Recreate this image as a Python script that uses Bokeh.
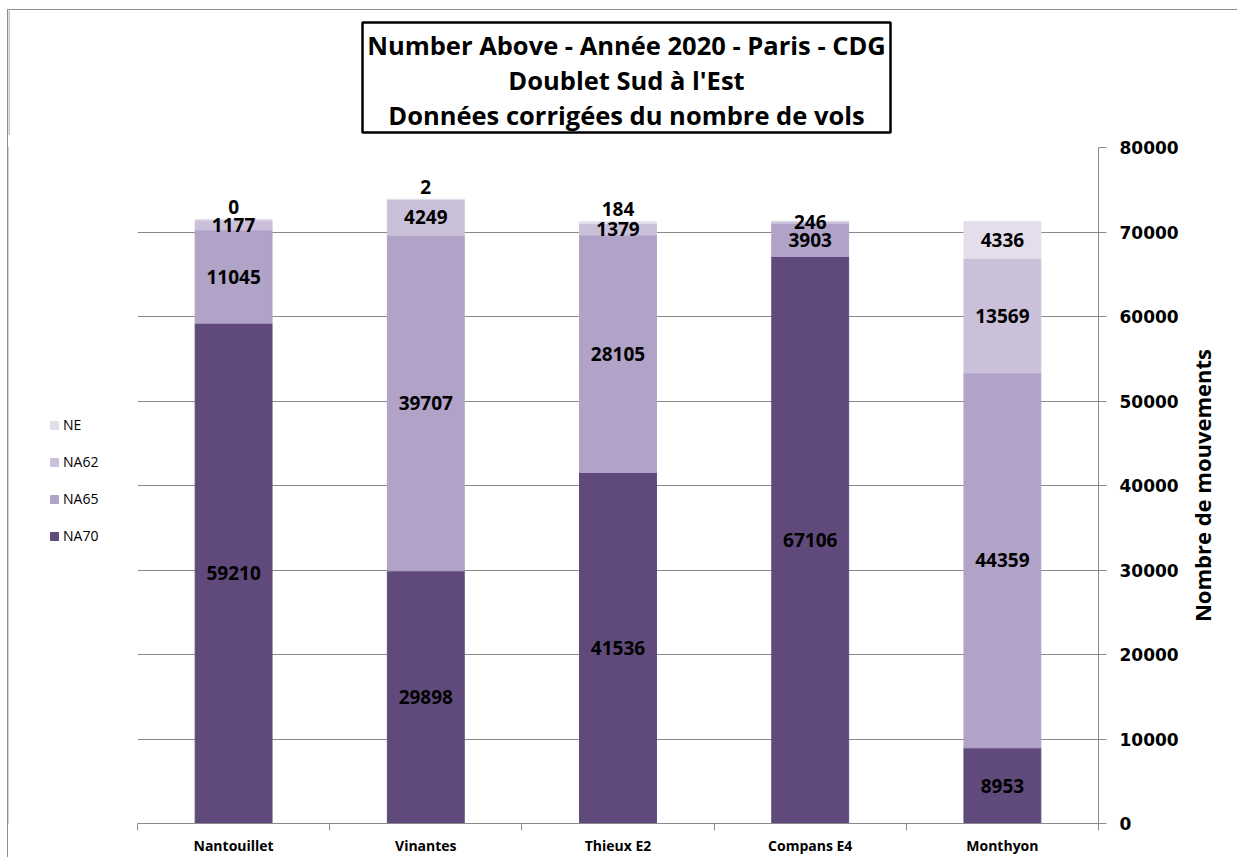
import math
from bokeh.plotting import figure
from bokeh.layouts import column, row
from bokeh.models import ColumnDataSource, FixedTicker, Range1d, Legend, LegendItem
from bokeh.core.properties import value
from bokeh.embed import file_html
from bokeh.resources import INLINE

# ---------------- data ----------------
categories = ["Nantouillet", "Vinantes", "Thieux E2", "Compans E4", "Monthyon"]
NA70 = [59210, 29898, 41536, 67106, 8953]
NA65 = [11045, 39707, 28105, 3903, 44359]
NA62 = [1177, 4249, 1379, 246, 13569]
NE = [0, 2, 184, 0, 4336]
ne_label_shown = [True, True, True, False, True]
series_names = ["NA70", "NA65", "NA62", "NE"]
series_colors = ["#604A7B", "#B1A2C8", "#CBC0DA", "#E4DEEC"]
y_ticks = [0, 10000, 20000, 30000, 40000, 50000, 60000, 70000, 80000]
title_lines = ["Number Above - Année 2020 - Paris - CDG",
               "Doublet Sud à l'Est",
               "Données corrigées du nombre de vols"]
y_axis_title = "Nombre de mouvements"

# ---------------- layout (page coordinates of the reference) ----------------
OX, OY = 8, 10                      # page position of the layout's top-left
W, H = 1237 - OX, 857 - OY
TITLE_H = 135 - OY                  # title strip height
LEG_W = 137 - OX                    # legend strip width
RSTRIP_X = 1185                     # page x where the axis-title strip starts
MAIN_W = RSTRIP_X - 137
RSTRIP_W = 1237 - RSTRIP_X
MAIN_H = H - TITLE_H
FRAME_TOP = 147 - 135
FRAME_BOTTOM = 823 - 135
FRAME_RIGHT = 1098 - 137

n = len(categories)
xs = list(range(1, n + 1))
series = [NA70, NA65, NA62, NE]
gray = "#8a8a8a"
border_gray = "#8c8c8c"

# ---------------- main chart ----------------
src = ColumnDataSource(dict(x=xs, NA70=NA70, NA65=NA65, NA62=NA62, NE=NE))
p = figure(width=MAIN_W, height=MAIN_H, output_backend="svg", toolbar_location=None,
           x_range=Range1d(0.5, n + 0.5), y_range=Range1d(0, 80000),
           y_axis_location="right", min_border_left=0,
           min_border_right=MAIN_W - FRAME_RIGHT,
           min_border_bottom=MAIN_H - FRAME_BOTTOM, min_border_top=FRAME_TOP)
p.outline_line_color = None
p.background_fill_color = "white"

rs = p.vbar_stack(series_names, x="x", width=0.4, source=src,
                  color=series_colors, line_color=series_colors)

yt = FixedTicker(ticks=y_ticks)
yax = p.yaxis[0]
yax.ticker = yt
yax.axis_line_color = gray
yax.major_tick_line_color = gray
yax.major_tick_out = 8
yax.major_tick_in = 0
yax.minor_tick_line_color = None
yax.major_label_standoff = 13
yax.major_label_text_font = "DejaVu Sans"
yax.major_label_text_font_style = "bold"
yax.major_label_text_font_size = "17px"
yax.major_label_text_color = "black"

p.ygrid.ticker = yt
p.ygrid.grid_line_color = gray
p.ygrid.grid_line_width = 1
p.xgrid.visible = False

xt = FixedTicker(ticks=xs, minor_ticks=[x - 0.5 for x in xs] + [n + 0.5])
xax = p.xaxis[0]
xax.ticker = xt
xax.major_label_overrides = {x: c for x, c in zip(xs, categories)}
xax.axis_line_color = gray
xax.major_tick_line_color = None
xax.major_tick_out = 0
xax.major_tick_in = 0
xax.minor_tick_line_color = gray
xax.minor_tick_out = 7
xax.minor_tick_in = 0
xax.major_label_standoff = 5
xax.major_label_text_font = "Open Sans"
xax.major_label_text_font_style = "bold"
xax.major_label_text_font_size = "14px"
xax.major_label_text_color = "black"

# data labels
lx, ly, lt, loff = [], [], [], []
for i in range(n):
    base = 0
    for s_idx, s in enumerate(series):
        v = s[i]
        if series_names[s_idx] == "NE":
            if ne_label_shown[i]:
                if v < 1000:
                    lx.append(xs[i]); ly.append(base + v); lt.append(str(v)); loff.append(-12.5)
                else:
                    lx.append(xs[i]); ly.append(base + v / 2); lt.append(str(v)); loff.append(0)
        else:
            lx.append(xs[i]); ly.append(base + v / 2); lt.append(str(v)); loff.append(0)
        base += v
lab_src = ColumnDataSource(dict(x=lx, y=ly, t=lt, off=loff))
p.text(x="x", y="y", text="t", y_offset="off", source=lab_src,
       text_align="center", text_baseline="middle",
       text_font=value("Open Sans"), text_font_style="bold",
       text_font_size="19px", text_color="black")

# ---------------- title strip ----------------
tf = figure(width=W, height=TITLE_H, output_backend="svg", toolbar_location=None,
            x_range=Range1d(0, W), y_range=Range1d(0, TITLE_H),
            x_axis_type=None, y_axis_type=None, min_border=0)
tf.outline_line_color = None
tf.grid.visible = False

def ty(ypage):
    return TITLE_H - (ypage - OY)

# left edge of the chart-area border within the title strip
tf.segment(x0=[0.5], y0=[0], x1=[0.5], y1=[TITLE_H], line_color=border_gray, line_width=1)

tcx = 626 - OX
tf.rect(x=[tcx], y=[ty(77)], width=528, height=110,
        fill_color="white", line_color="black", line_width=2.5)
tf.text(x=[tcx] * 3, y=[ty(44), ty(79), ty(114)], text=title_lines,
        text_align="center", text_baseline="middle",
        text_font=value("Open Sans"), text_font_style="bold",
        text_font_size="25.5px", text_color="black")

# ---------------- legend strip ----------------
lf = figure(width=LEG_W, height=MAIN_H, output_backend="svg", toolbar_location=None,
            x_range=Range1d(0, 1), y_range=Range1d(0, 1),
            x_axis_type=None, y_axis_type=None, min_border=0)
lf.outline_line_color = None
lf.grid.visible = False
proxy = ColumnDataSource(dict(x=[-10], top=[1]))   # off-canvas proxy for legend swatches
leg_rs = [lf.vbar(x="x", top="top", width=0.1, source=proxy,
                  fill_color=c, line_color=c) for c in series_colors]
items = [LegendItem(label=series_names[k], renderers=[leg_rs[k]]) for k in [3, 2, 1, 0]]
legend = Legend(items=items, location=(49 - OX, MAIN_H - (579 - 135)), padding=0, margin=0,
                spacing=18, glyph_width=10, glyph_height=10, label_standoff=4,
                label_height=19, label_text_font="Open Sans",
                label_text_font_size="14px", label_text_color="black",
                background_fill_alpha=0, border_line_color=None)
lf.add_layout(legend)

# ---------------- axis title strip (right) ----------------
rf = figure(width=RSTRIP_W, height=MAIN_H, output_backend="svg", toolbar_location=None,
            x_range=Range1d(0, RSTRIP_W), y_range=Range1d(0, MAIN_H),
            x_axis_type=None, y_axis_type=None, min_border=0)
rf.outline_line_color = None
rf.grid.visible = False
rf.text(x=[1201 - RSTRIP_X], y=[MAIN_H - (496 - 135)], text=[y_axis_title], angle=math.pi / 2,
        text_align="center", text_baseline="middle",
        text_font=value("Open Sans"), text_font_style="bold",
        text_font_size="22px", text_color="black")

layout = column(tf, row(lf, p, rf))
layout.styles = {"border-left": f"1px solid {border_gray}", "border-top": f"1px solid {border_gray}",
                 "margin-left": f"{OX - 1}px", "margin-top": f"{OY - 1}px"}

open("out.html", "w").write(file_html(layout, INLINE))
